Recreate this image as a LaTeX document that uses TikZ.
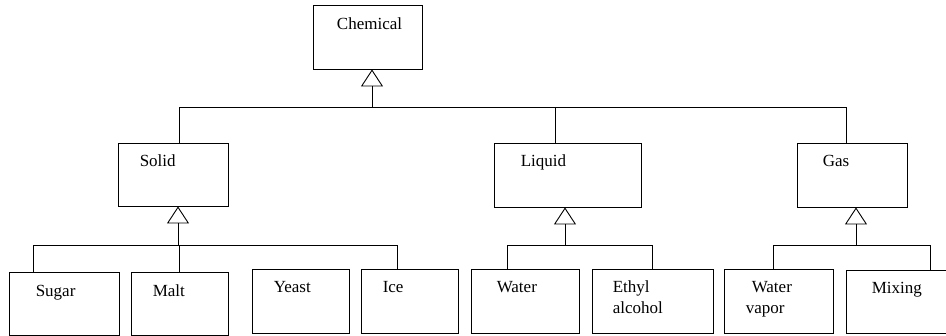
\documentclass[tikz,border=0pt]{standalone}
\usepackage{fontspec}
\setmainfont{Liberation Serif}
\usetikzlibrary{arrows.meta, positioning}
\tikzset{
  cls/.style 2 args={
    minimum width=#1,
    minimum height=#2,
    draw, line width=0.9pt, inner sep=0pt,
  },
  lbl/.style={
    anchor=base west, inner sep=0pt, align=left,
    font=\fontsize{17}{21}\selectfont,
  },
  wire/.style={line width=0.9pt},
  isa/.style={
    wire,
    -{Triangle[open, width=22pt, length=17pt]},
  },
}

\begin{document}
\begin{tikzpicture}[x=1pt, y=-1pt]
\useasboundingbox (0,0) rectangle (946,336);
% classes
\node[cls={109pt}{64pt}] (chem) at (367.5,37) {};
\node[cls={110pt}{63pt}] (solid) at (173,174.5) {};
\node[cls={147pt}{64pt}] (liquid) at (567.5,175) {};
\node[cls={110pt}{64pt}] (gas) at (852,175) {};
\node[cls={110pt}{63pt}] (sugar) at (64,303.5) {};
\node[cls={97pt}{63pt}] (malt) at (179.5,303.5) {};
\node[cls={97pt}{64pt}] (yeast) at (300.5,301) {};
\node[cls={97pt}{64pt}] (ice) at (409.5,301) {};
\node[cls={108pt}{64pt}] (water) at (525,301) {};
\node[cls={121pt}{64pt}] (ethyl) at (652.5,301) {};
\node[cls={109pt}{64pt}] (vapor) at (778.5,301) {};
\node[cls={110pt}{63pt}] (mixing) at (901,301.5) {};

% names (base of a two-line name is its last line)
\node[lbl, anchor=base] at ([shift={(57,25)}]chem.north west) {Chemical};
\node[lbl] at ([shift={(22,24)}]solid.north west) {Solid};
\node[lbl] at ([shift={(27,24)}]liquid.north west) {Liquid};
\node[lbl] at ([shift={(26,24)}]gas.north west) {Gas};
\node[lbl] at ([shift={(27,25)}]sugar.north west) {Sugar};
\node[lbl] at ([shift={(22,25)}]malt.north west) {Malt};
\node[lbl] at ([shift={(22,24)}]yeast.north west) {Yeast};
\node[lbl] at ([shift={(22,24)}]ice.north west) {Ice};
\node[lbl] at ([shift={(26,24)}]water.north west) {Water};
\node[lbl] at ([shift={(21,45)}]ethyl.north west) {Ethyl\\alcohol};
\node[lbl] at ([shift={(22,45)}]vapor.north west) {\hspace{6pt}Water\\vapor};
\node[lbl] at ([shift={(26,24)}]mixing.north west) {Mixing};

% generalization
\coordinate (hubC) at (372,107);
\coordinate (hubS) at (178,245);
\coordinate (hubL) at (565,245);
\coordinate (hubG) at (856,245);
\draw[isa] (hubC) -- (hubC |- chem.south);
\draw[isa] (hubS) -- (hubS |- solid.south);
\draw[isa] (hubL) -- (hubL |- liquid.south);
\draw[isa] (hubG) -- (hubG |- gas.south);

\draw[wire] ([xshift=6pt]solid.north) |- (hubC);
\draw[wire] ([xshift=-12.5pt]liquid.north) |- (hubC);
\draw[wire] ([xshift=-6pt]gas.north) |- (hubC);

\draw[wire] ([xshift=-31pt]sugar.north) |- (hubS);
\draw[wire] (malt.north) |- (hubS);
\draw[wire] ([xshift=-12.5pt]ice.north) |- (hubS);

\draw[wire] ([xshift=-18pt]water.north) |- (hubL);
\draw[wire] (ethyl.north) |- (hubL);

\draw[wire] ([xshift=-5.5pt]vapor.north) |- (hubG);
\draw[wire] ([xshift=29pt]mixing.north) |- (hubG);
\end{tikzpicture}
\end{document}
